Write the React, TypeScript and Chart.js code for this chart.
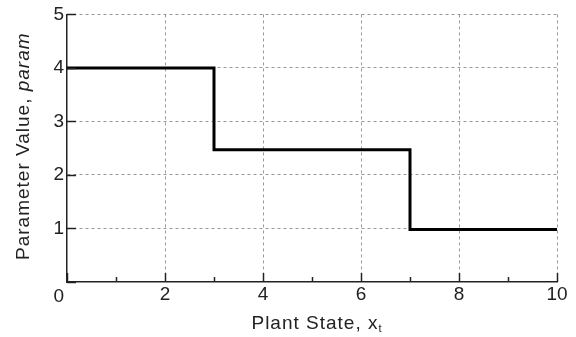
import React, { useEffect, useRef } from 'react';
import { Chart, registerables } from 'chart.js';

Chart.register(...registerables);

// ---- data ----
const stateX = [0, 3, 7, 10];
const paramValues = [4, 2.47, 0.98, 0.98];
const xMin = 0;
const xMax = 10;
const yMin = 0;
const yMax = 5;
const xLabelStep = 2;
const cornerLabel = '0';
const xTitleMain = 'Plant State, x';
const xTitleSub = 't';
const yTitleMain = 'Parameter Value, ';
const yTitleItalic = 'param';

const FONT = '"Liberation Sans", Arial, sans-serif';
const FONT_SIZE = 19;
const TEXT = '#222222';
const AXIS = '#222222';
const GRID = '#9a9a9a';

const decorPlugin = {
  id: 'decor',
  afterDraw(chart: any) {
    const { ctx, scales, chartArea } = chart;
    const x = scales.x;
    const y = scales.y;
    ctx.save();
    // inward tick marks
    ctx.strokeStyle = AXIS;
    ctx.lineWidth = 1.5;
    x.ticks.forEach((t: any) => {
      const px = Math.round(x.getPixelForValue(t.value)) + 0.5;
      const len = t.value % xLabelStep === 0 ? 9 : 5;
      ctx.beginPath();
      ctx.moveTo(px, chartArea.bottom);
      ctx.lineTo(px, chartArea.bottom - len);
      ctx.stroke();
    });
    y.ticks.forEach((t: any) => {
      const py = Math.round(y.getPixelForValue(t.value)) + 0.5;
      ctx.beginPath();
      ctx.moveTo(chartArea.left, py);
      ctx.lineTo(chartArea.left + 9, py);
      ctx.stroke();
    });

    ctx.fillStyle = TEXT;
    // corner zero label
    ctx.font = `${FONT_SIZE}px ${FONT}`;
    ctx.textAlign = 'right';
    ctx.textBaseline = 'alphabetic';
    ctx.fillText(cornerLabel, chartArea.left - 3, chartArea.bottom + 20);

    const anyCtx = ctx as any;
    anyCtx.letterSpacing = '1px';
    // x title with subscript
    const mainFont = `${FONT_SIZE}px ${FONT}`;
    const subFont = `${Math.round(FONT_SIZE * 0.6)}px ${FONT}`;
    ctx.font = mainFont;
    const wMain = ctx.measureText(xTitleMain).width;
    ctx.font = subFont;
    const wSub = ctx.measureText(xTitleSub).width;
    const cx = (chartArea.left + chartArea.right) / 2 + 5;
    const startX = cx - (wMain + wSub) / 2;
    const baseY = chartArea.bottom + 47;
    ctx.textAlign = 'left';
    ctx.font = mainFont;
    ctx.fillText(xTitleMain, startX, baseY);
    ctx.font = subFont;
    ctx.fillText(xTitleSub, startX + wMain, baseY + 3);

    // y title, rotated, with italic part
    const italicFont = `italic ${FONT_SIZE}px ${FONT}`;
    ctx.font = mainFont;
    const w1 = ctx.measureText(yTitleMain).width;
    ctx.font = italicFont;
    const w2 = ctx.measureText(yTitleItalic).width;
    const cy = (chartArea.top + chartArea.bottom) / 2 - 2;
    ctx.translate(29, cy);
    ctx.rotate(-Math.PI / 2);
    const sx = -(w1 + w2) / 2;
    ctx.font = mainFont;
    ctx.fillText(yTitleMain, sx, 0);
    ctx.font = italicFont;
    ctx.fillText(yTitleItalic, sx + w1, 0);
    ctx.restore();
  },
};

export default function App() {
  const ref = useRef<HTMLCanvasElement | null>(null);
  useEffect(() => {
    if (!ref.current) return;
    const points = stateX.map((v, i) => ({ x: v, y: paramValues[i] }));
    const chart = new Chart(ref.current, {
      type: 'line',
      data: {
        datasets: [
          {
            data: points,
            stepped: 'before',
            borderColor: '#000000',
            borderWidth: 3,
            pointRadius: 0,
            fill: false,
          },
        ],
      },
      options: {
        animation: false,
        responsive: false,
        events: [],
        layout: { padding: { top: 13, right: 19, left: 0, bottom: 0 } },
        plugins: { legend: { display: false }, tooltip: { enabled: false } },
        scales: {
          x: {
            type: 'linear',
            min: xMin,
            max: xMax,
            afterFit: (s: any) => {
              s.height = 55;
            },
            ticks: {
              stepSize: 1,
              autoSkip: false,
              maxRotation: 0,
              padding: 1,
              color: TEXT,
              font: { family: FONT, size: FONT_SIZE },
              callback: (v: any) => (v % xLabelStep === 0 && v !== xMin ? String(v) : ''),
            },
            grid: {
              drawTicks: false,
              color: (c: any) =>
                c.tick && c.tick.value % xLabelStep === 0 && c.tick.value !== xMin ? GRID : 'rgba(0,0,0,0)',
              lineWidth: 1,
            },
            border: { display: true, color: AXIS, width: 1.5, dash: [3, 3] },
          },
          y: {
            type: 'linear',
            min: yMin,
            max: yMax,
            afterFit: (s: any) => {
              s.width = 67;
            },
            ticks: {
              stepSize: 1,
              padding: 3,
              color: TEXT,
              font: { family: FONT, size: FONT_SIZE },
              callback: (v: any) => (v === yMin ? '' : String(v)),
            },
            grid: {
              drawTicks: false,
              color: (c: any) => (c.tick && c.tick.value !== yMin ? GRID : 'rgba(0,0,0,0)'),
              lineWidth: 1,
            },
            border: { display: true, color: AXIS, width: 1.5, dash: [3, 3] },
          },
        },
      },
      plugins: [decorPlugin],
    });
    return () => chart.destroy();
  }, []);
  return (
    <div style={{ position: 'absolute', left: 0, top: 0, width: 576, height: 337, background: '#fff' }}>
      <canvas ref={ref} width={576} height={337} />
    </div>
  );
}
